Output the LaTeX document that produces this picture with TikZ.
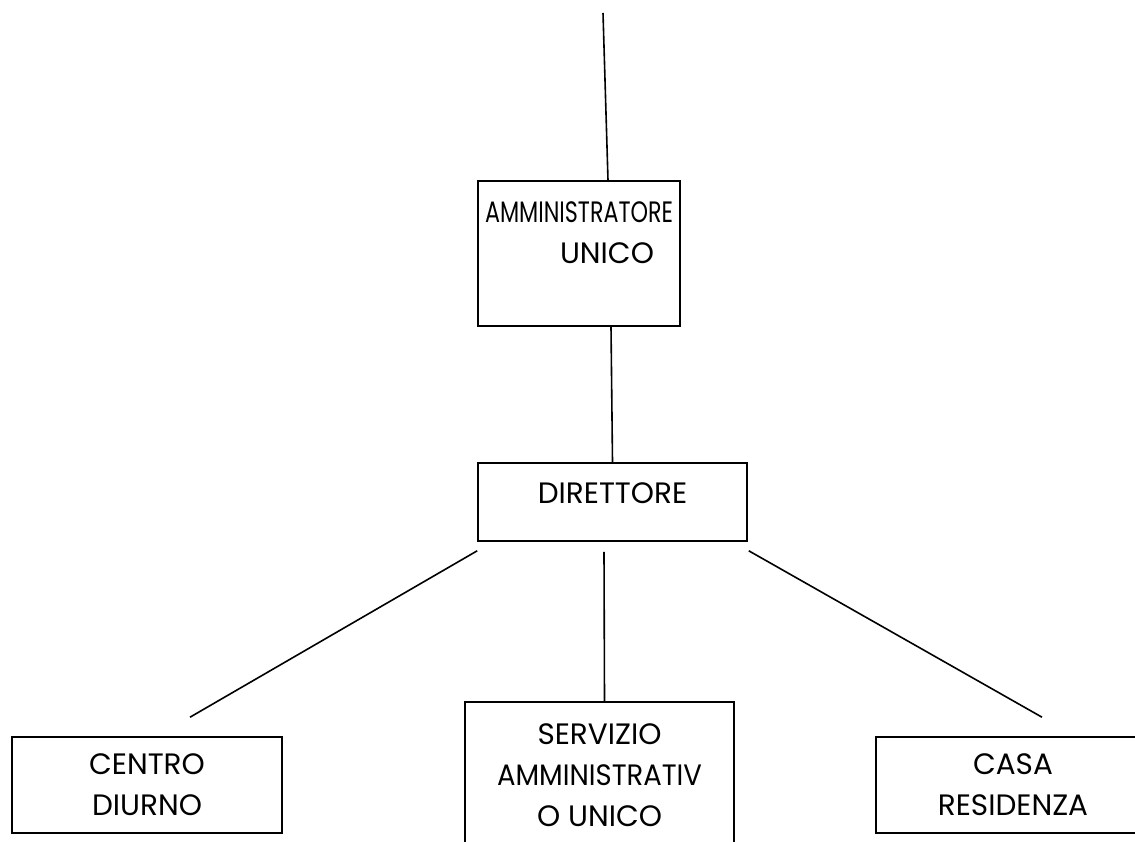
\documentclass[tikz,border=0pt]{standalone}
\usepackage{fontspec}
\setmainfont{Poppins}
\usepackage{graphicx}
\usetikzlibrary{calc}

\tikzset{
  orgbox/.style={draw, rectangle, line width=1.6pt, align=center, inner sep=0pt,
    font=\fontsize{29.5}{41}\selectfont},
  orgline/.style={line width=1.6pt},
}

\begin{document}
\begin{tikzpicture}[x=1pt,y=-1pt]
  \useasboundingbox (0,0) rectangle (1135,841);

  % Boxes of the chart
  \node[orgbox, minimum width=202pt, minimum height=145pt] (amm) at (579,253.5)
    {\resizebox{188pt}{\height}{AMMINISTRATORE}\\\hspace*{56pt}UNICO\\\mbox{}};
  \node[orgbox, minimum width=269pt, minimum height=78pt, text height=21pt, text depth=19pt] (dir) at (612.5,502) {DIRETTORE};
  \node[orgbox, minimum width=270pt, minimum height=96pt] (cd) at (147,785) {CENTRO\\DIURNO};
  \node[orgbox, minimum width=269pt, minimum height=146pt] (sau) at (599.5,775)
    {SERVIZIO\\\resizebox{205pt}{\height}{AMMINISTRATIV}\\O UNICO};
  \node[orgbox, minimum width=274pt, minimum height=96pt] (cr) at (1013,785) {CASA\\RESIDENZA};

  % Connecting lines
  \coordinate (top) at (603,13);
  \draw[orgline] (top) -- ([xshift=29pt]amm.north);
  \draw[orgline] ([xshift=32pt]amm.south) -- (dir.north);
  \draw[orgline] ($(dir.south west)+(0,9)$) -- ($(cd.north)+(43,-19)$);
  \draw[orgline] ($(dir.south)+(-8.5,10)$) -- ($(sau.north)+(5,0)$);
  \draw[orgline] ($(dir.south east)+(1,9)$) -- ($(cr.north)+(29,-19)$);
\end{tikzpicture}
\end{document}
